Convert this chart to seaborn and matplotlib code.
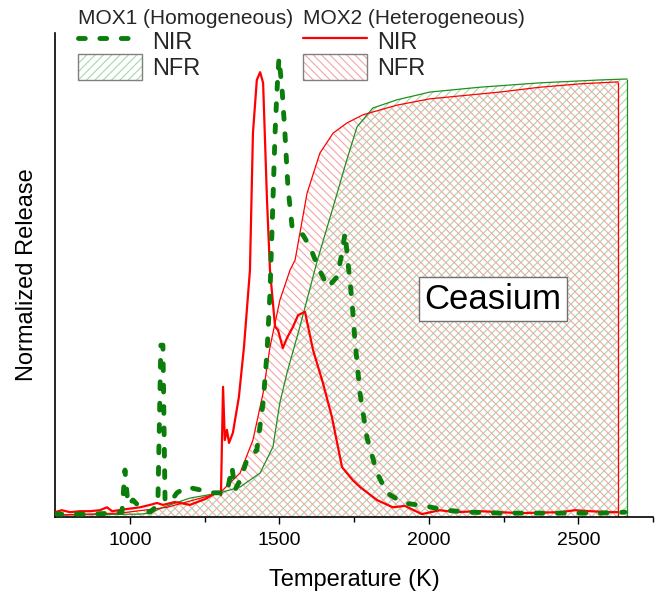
import numpy as np
import pandas as pd
import matplotlib
matplotlib.use("Agg")
import matplotlib.pyplot as plt
import seaborn as sns
from matplotlib.lines import Line2D
from matplotlib.patches import Patch

# ---------------- data ----------------
# MOX1 (Homogeneous) - NIR (dashed green)
mox1_nir_T = [750, 867, 951, 974, 984, 994, 1011, 1034, 1068, 1094, 1104, 1111, 1118, 1135,
              1158, 1191, 1235, 1278, 1325, 1342, 1352, 1369, 1392, 1425, 1446, 1459, 1469,
              1479, 1486, 1492, 1499, 1509, 1519, 1529, 1543, 1559, 1579, 1603, 1629, 1663,
              1693, 1710, 1720, 1730, 1743, 1753, 1770, 1793, 1827, 1860, 1914, 1987, 2054,
              2138, 2238, 2439, 2573, 2656]
mox1_nir_y = [0.006, 0.006, 0.008, 0.010, 0.097, 0.025, 0.035, 0.020, 0.010, 0.025, 0.355,
              0.355, 0.035, 0.030, 0.050, 0.062, 0.056, 0.050, 0.050, 0.103, 0.056, 0.076,
              0.118, 0.138, 0.236, 0.339, 0.463, 0.655, 0.793, 0.876, 0.948, 0.888, 0.793,
              0.682, 0.599, 0.587, 0.583, 0.558, 0.517, 0.475, 0.496, 0.545, 0.587, 0.525,
              0.448, 0.366, 0.256, 0.165, 0.091, 0.050, 0.029, 0.023, 0.014, 0.010, 0.008,
              0.008, 0.008, 0.010]

# MOX2 (Heterogeneous) - NIR (solid red)
mox2_nir_T = [750, 773, 800, 834, 867, 900, 924, 941, 984, 1034, 1068, 1091, 1111, 1151, 1201,
              1252, 1295, 1305, 1312, 1318, 1325, 1332, 1345, 1365, 1382, 1402, 1412, 1425,
              1436, 1446, 1459, 1469, 1486, 1496, 1512, 1526, 1546, 1563, 1586, 1613, 1646,
              1676, 1710, 1746, 1770, 1827, 1880, 1920, 1977, 2037, 2088, 2171, 2305, 2439,
              2489, 2539, 2606, 2633]
mox2_nir_y = [0.010, 0.014, 0.010, 0.012, 0.012, 0.014, 0.020, 0.012, 0.016, 0.020, 0.025,
              0.029, 0.025, 0.031, 0.025, 0.037, 0.052, 0.045, 0.269, 0.159, 0.180, 0.153,
              0.174, 0.248, 0.351, 0.510, 0.793, 0.903, 0.919, 0.897, 0.655, 0.510, 0.393,
              0.386, 0.349, 0.370, 0.393, 0.417, 0.424, 0.345, 0.277, 0.207, 0.103, 0.076,
              0.062, 0.035, 0.020, 0.023, 0.006, 0.014, 0.010, 0.012, 0.008, 0.010, 0.014,
              0.012, 0.010, 0.010]

# MOX1 (Homogeneous) - NFR (thin green, hatched)
mox1_nfr_T = [750, 1034, 1068, 1111, 1201, 1302, 1369, 1436, 1479, 1502, 1526, 1569, 1626,
              1680, 1726, 1760, 1813, 1894, 2004, 2171, 2372, 2573, 2663]
mox1_nfr_y = [0.004, 0.006, 0.008, 0.020, 0.039, 0.050, 0.062, 0.091, 0.145, 0.236, 0.298,
              0.393, 0.527, 0.640, 0.738, 0.806, 0.845, 0.862, 0.878, 0.888, 0.897, 0.903,
              0.905]

# MOX2 (Heterogeneous) - NFR (thin red, hatched)
mox2_nfr_T = [750, 967, 1125, 1302, 1369, 1412, 1446, 1469, 1502, 1536, 1553, 1593, 1636,
              1680, 1726, 1780, 1894, 2004, 2238, 2372, 2506, 2633]
mox2_nfr_y = [0.004, 0.008, 0.020, 0.050, 0.091, 0.159, 0.256, 0.351, 0.448, 0.510, 0.531,
              0.669, 0.752, 0.793, 0.814, 0.831, 0.851, 0.864, 0.878, 0.888, 0.895, 0.899]

x_ticks = [1000, 1500, 2000, 2500]
x_limits = (750, 2750)

# ---------------- style ----------------
sns.set_theme(style="ticks")
plt.rcParams["font.family"] = ["Liberation Sans", "DejaVu Sans"]
plt.rcParams["hatch.linewidth"] = 0.8

RED = "#ff0000"
GREEN = "#0a7d0a"
GREEN_THIN = "#1f8f1f"
RED_HATCH = "#f4a6a6"
GREEN_HATCH = "#a9d6a9"

fig = plt.figure(figsize=(6.64, 5.96), dpi=100)
ax = fig.add_axes([55 / 664, 79 / 596, 598 / 664, 484 / 596])

nfr1 = pd.DataFrame({"T": mox1_nfr_T, "y": mox1_nfr_y})
nfr2 = pd.DataFrame({"T": mox2_nfr_T, "y": mox2_nfr_y})
nir1 = pd.DataFrame({"T": mox1_nir_T, "y": mox1_nir_y})
nir2 = pd.DataFrame({"T": mox2_nir_T, "y": mox2_nir_y})

# hatched fills
ax.fill_between(nfr1["T"], 0, nfr1["y"], facecolor="none", edgecolor=GREEN_HATCH,
                hatch="////", linewidth=0, zorder=1)
ax.fill_between(nfr2["T"], 0, nfr2["y"], facecolor="none", edgecolor=RED_HATCH,
                hatch="\\\\\\\\", linewidth=0, zorder=1)

# NFR curves
sns.lineplot(data=nfr1, x="T", y="y", ax=ax, color=GREEN_THIN, lw=0.9,
             estimator=None, sort=False, zorder=2)
sns.lineplot(data=nfr2, x="T", y="y", ax=ax, color=RED, lw=0.9,
             estimator=None, sort=False, zorder=2)
ax.vlines(nfr1["T"].iloc[-1], 0, nfr1["y"].iloc[-1], color=GREEN_THIN, lw=0.9, zorder=2)
ax.vlines(nfr2["T"].iloc[-1], 0, nfr2["y"].iloc[-1], color=RED, lw=0.9, zorder=2)

# NIR curves
sns.lineplot(data=nir2, x="T", y="y", ax=ax, color=RED, lw=1.6,
             estimator=None, sort=False, zorder=3)
sns.lineplot(data=nir1, x="T", y="y", ax=ax, color=GREEN, lw=3.5,
             estimator=None, sort=False, zorder=4,
             linestyle=(0, (1.4, 3.0)), dash_capstyle="round")

ax.set_xlim(*x_limits)
ax.set_ylim(0, 1)
ax.set_xticks(x_ticks)
ax.set_xticks([t + 250 for t in [750] + x_ticks], minor=True)
ax.set_yticks([])
ax.tick_params(axis="x", which="major", length=5, width=1.0, labelsize=14, color="black",
               labelcolor="black", pad=6)
ax.tick_params(axis="x", which="minor", length=3.5, width=1.0, color="black")
for s in ["top", "right"]:
    ax.spines[s].set_visible(False)
for s in ["left", "bottom"]:
    ax.spines[s].set_color("black")
    ax.spines[s].set_linewidth(1.2)

ax.set_xlabel("Temperature (K)", fontsize=17, color="black", labelpad=14)
ax.set_ylabel("Normalized Release", fontsize=17, color="black", labelpad=12)

ax.text(2215, 0.45, "Ceasium", fontsize=25, ha="center", va="center", color="black",
        bbox=dict(boxstyle="square,pad=0.15", facecolor="white", edgecolor="#707070", lw=1),
        zorder=5)

# legends
def make_legend(x_px, title, line_handle, hatch_color, hatch):
    patch = (Patch(facecolor="white", edgecolor=hatch_color, hatch=hatch, linewidth=0),
             Patch(facecolor="none", edgecolor="#808080", linewidth=1.0))
    leg = fig.legend([line_handle, patch], ["NIR", "NFR"], title=title,
                     loc="upper left", bbox_to_anchor=(x_px / 664, 1 - 9 / 596),
                     frameon=False, fontsize=17, title_fontsize=15,
                     handlelength=2.7, handleheight=1.3, handletextpad=0.45,
                     labelspacing=0.0, borderpad=0, borderaxespad=0,
                     alignment="left")
    return leg

leg1 = make_legend(78, "MOX1 (Homogeneous)",
                   Line2D([], [], color=GREEN, lw=3.5, linestyle=(0, (1.4, 3.0)),
                          dash_capstyle="round"),
                   GREEN_HATCH, "////")
leg2 = make_legend(303, "MOX2 (Heterogeneous)",
                   Line2D([], [], color=RED, lw=1.6),
                   RED_HATCH, "\\\\\\\\")

fig.savefig("out.png", dpi=100)
